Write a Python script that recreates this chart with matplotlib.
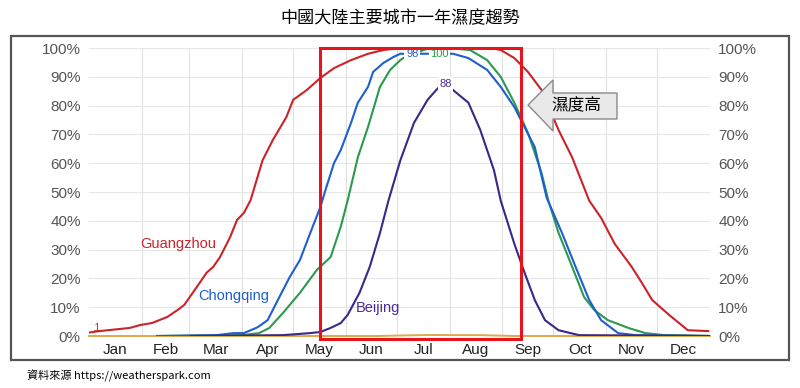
import matplotlib
matplotlib.use("Agg")
import matplotlib.pyplot as plt
from matplotlib.patches import Rectangle, Polygon

# humidity (% of time muggy) by day of year
gz_day = [0, 6, 24, 30, 37, 46, 52, 56, 65, 69, 73, 77, 83, 87, 91, 95, 102, 108, 116, 120,
          128, 136, 144, 154, 164, 173, 183, 213, 236, 242, 250, 258, 266, 276, 284, 294,
          301, 309, 319, 325, 331, 341, 352, 364]
gz_val = [1.2, 1.7, 2.8, 3.8, 4.5, 6.6, 9.0, 10.8, 18.4, 21.9, 24, 27.4, 34.4, 40.3, 42.7, 47.2,
          61, 68, 76, 82, 85.4, 89.6, 93, 95.8, 98, 99.3, 100, 100, 100, 99.3, 96.5, 91.7,
          85.4, 71.5, 62, 47, 41, 32, 24, 18.4, 12.5, 7.3, 2, 1.7]

cq_day = [40, 75, 85, 91, 99, 105, 111, 118, 124, 130, 136, 139, 144, 148, 154, 158, 164,
          167, 173, 179, 183, 200, 214, 223, 234, 242, 250, 262, 269, 278, 286, 294, 301,
          311, 321, 365]
cq_val = [0, 0.3, 1, 1, 3, 5.5, 12.5, 20.5, 26.4, 35.7, 44.8, 50.7, 60, 64.6, 74, 81, 86.5,
          91.7, 94.8, 96.9, 98, 98, 98, 96.5, 92.4, 86.5, 79.5, 65.6, 48, 35.8, 24, 12.5, 5.5,
          1, 0.3, 0]

cq_green_day = [40, 90, 100, 106, 114, 124, 134, 142, 148, 152, 158, 164, 171, 177, 183, 186,
                200, 212, 224, 234, 242, 250, 258, 266, 270, 276, 284, 291, 297, 305, 317,
                327, 338, 365]
cq_green_val = [0, 0.3, 1, 2.8, 8, 15, 23, 27.4, 38, 47, 62, 72.6, 86.5, 92.4, 95.8, 97,
                100, 100, 99.3, 95.8, 90, 81, 70.5, 56.6, 47, 35.8, 24, 13.5, 9, 5.5, 2.8,
                1, 0.3, 0]

bj_day = [60, 114, 130, 136, 142, 148, 152, 159, 165, 171, 176, 183, 191, 199, 205, 210,
          214, 223, 230, 238, 242, 250, 256, 262, 268, 276, 288, 365]
bj_val = [0, 0.3, 1, 1.4, 2.8, 4.5, 7.3, 15, 24, 35.7, 47, 61, 74, 82, 86, 88, 85.4, 81,
          71.5, 57.6, 47, 32, 22, 12.5, 5.5, 2, 0.3, 0]

other_day = [0, 170, 185, 200, 230, 250, 365]
other_val = [0, 0, 0.2, 0.35, 0.3, 0, 0]

month_start = [0, 31, 59, 90, 120, 151, 181, 212, 243, 273, 304, 334, 365]
month_names = ["Jan", "Feb", "Mar", "Apr", "May", "Jun", "Jul", "Aug", "Sep", "Oct", "Nov", "Dec"]
yticks = [0, 10, 20, 30, 40, 50, 60, 70, 80, 90, 100]

# highlighted window (mid May .. mid Sep)
box_start, box_end = 136, 254

cjk = ["Noto Sans CJK TC", "DejaVu Sans"]
plt.rcParams['font.family'] = ["Liberation Sans", "DejaVu Sans"]

fig = plt.figure(figsize=(8, 3.88), dpi=100)
W, H = 800, 388
ax = fig.add_axes([89 / W, (H - 336) / H, (710 - 89) / W, (336 - 48) / H])

# frame around the chart
fig.patches.append(Rectangle((11 / W, (H - 360) / H), 778 / W, 324 / H, transform=fig.transFigure,
                             fill=False, edgecolor="#555555", lw=1.6))

ax.set_xlim(0, 365)
ax.set_ylim(0, 100)
for s in ax.spines.values():
    s.set_visible(False)

ax.set_yticks(yticks)
ax.set_yticklabels([str(v) + "%" for v in yticks])
ax.tick_params(axis="y", length=0, pad=6, labelsize=11, labelcolor="#555555",
               labelright=True, right=False)
mids = [(month_start[i] + month_start[i + 1]) / 2 for i in range(12)]
ax.set_xticks(mids)
ax.set_xticklabels(month_names)
ax.tick_params(axis="x", length=0, pad=5, labelsize=11, labelcolor="#222222")
ax.set_xticks(month_start[1:-1], minor=True)
ax.tick_params(axis="x", which="minor", length=0)
ax.grid(True, axis="y", color="#e6e6e6", lw=0.8)
ax.grid(True, axis="x", which="minor", color="#e0e0e0", lw=0.8)

ax.plot(other_day, other_val, color="#e0a84a", lw=1.4, clip_on=False)
ax.plot(gz_day, gz_val, color="#cc2229", lw=1.5)
ax.plot(cq_green_day, cq_green_val, color="#2b9a4c", lw=1.5)
ax.plot(cq_day, cq_val, color="#1d5fd0", lw=1.5)
ax.plot(bj_day, bj_val, color="#3c2689", lw=1.5)

# series names
ax.text(30, 30.5, "Guangzhou", color="#cc2229", fontsize=10.5)
ax.text(64, 12.5, "Chongqing", color="#1d5fd0", fontsize=10.5)
ax.text(157, 8.5, "Beijing", color="#4b2c95", fontsize=10.5)
ax.text(2, 1.8, ".1", color="#cc2229", fontsize=7)

# peak labels
for x, y, txt, c in [(190, 98, "98", "#1d5fd0"), (206, 98, "100", "#2b9a4c"), (209.5, 87.5, "88", "#4b2c95")]:
    ax.text(x, y, txt, color=c, fontsize=8, ha="center", va="center",
            bbox=dict(boxstyle="square,pad=0.15", fc="white", ec="none"))

# highlight box
ax.add_patch(Rectangle((box_start, -1.1), box_end - box_start, 101.1, fill=False,
                       edgecolor="#e8141c", lw=2.2, clip_on=False, zorder=5))

# arrow with label
arrow_px = [(528, 105), (553, 80), (553, 93), (617, 93), (617, 119), (553, 119), (553, 131)]
arrow_pts = [(px / W, (H - py) / H) for px, py in arrow_px]
fig.patches.append(Polygon(arrow_pts, closed=True, transform=fig.transFigure,
                           facecolor="#e9e9e9", edgecolor="#8a8a8a", lw=1))
fig.text(576 / W, (H - 106) / H, "濕度高", family=cjk, fontsize=12, ha="center", va="center")

fig.text(0.5, (H - 18) / H, "中國大陸主要城市一年濕度趨勢", family=cjk, fontsize=12.3,
         ha="center", va="center")
fig.text(27 / W, (H - 376) / H, "資料來源 https://weatherspark.com", family=cjk, fontsize=8,
         ha="left", va="center")

fig.savefig("out.png", dpi=100)
